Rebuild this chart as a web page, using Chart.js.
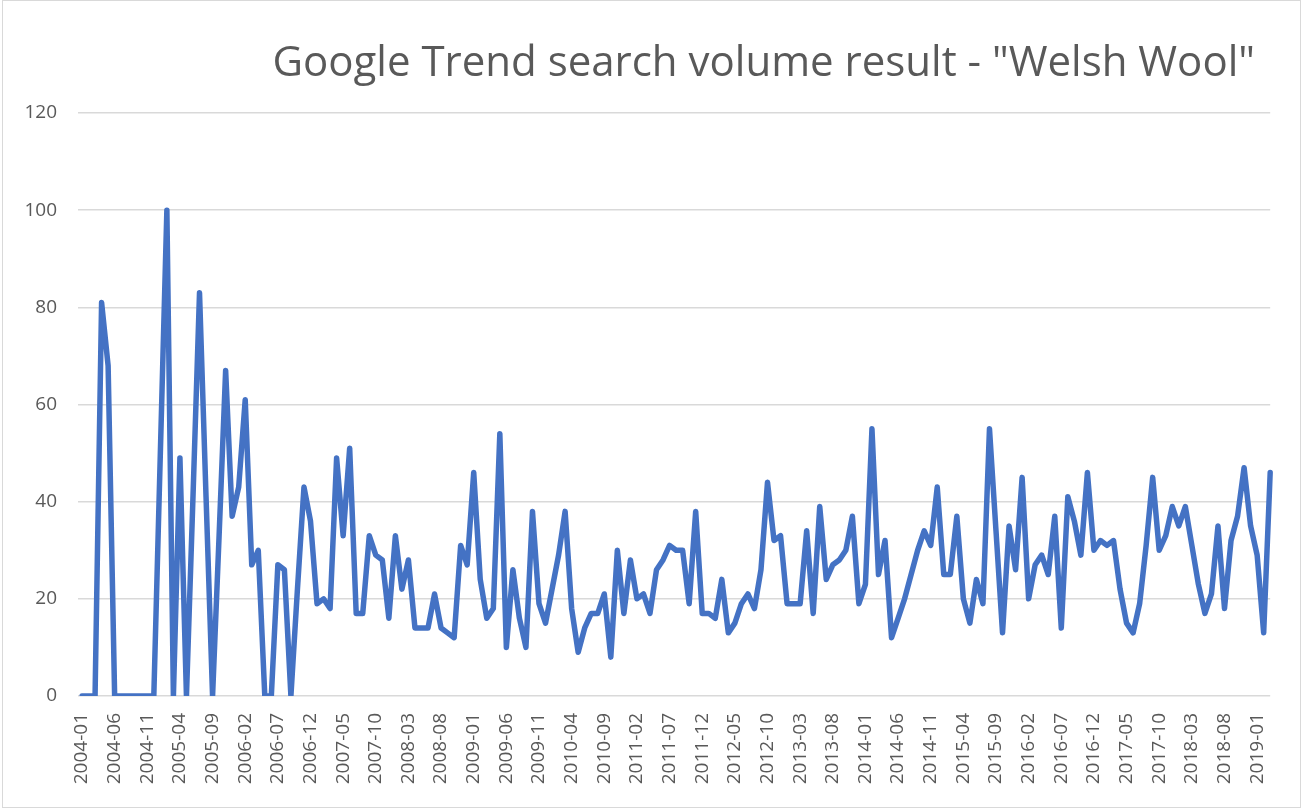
<!DOCTYPE html>
<html>
<head>
<meta charset="utf-8">
<script src="https://cdn.jsdelivr.net/npm/chart.js@4"></script>
<style>
    html, body { margin: 0; padding: 0; background: #fff; }
    #frame {
        position: absolute; left: 2px; top: 0px;
        width: 1297px; height: 806px;
        border: 1px solid #d9d9d9;
    }
    #title {
        position: absolute; right: 47px; top: 39px;
        font-family: "Open Sans", sans-serif; font-size: 42px; line-height: 1;
        color: #595959; white-space: nowrap;
    }
    canvas { position: absolute; left: 0; top: 0; }
</style>
</head>
<body>
<div id="frame"></div>
<canvas id="trend-chart" width="1302" height="810"></canvas>
<div id="title">Google Trend search volume result - "Welsh Wool"</div>
<script>
// --- Data (monthly, 2004-01 .. 2019-03) ---
const startYear = 2004;
const monthCount = 183;
const months = [];
for (let i = 0; i < monthCount; i++) {
    const y = startYear + Math.floor(i / 12);
    const m = (i % 12) + 1;
    months.push(`${y}-${String(m).padStart(2, '0')}`);
}

const searchVolume = [
    0, 0, 0, 81, 68, 0, 0, 0, 0, 0, 0, 0,
    50, 100, 0, 49, 0, 41, 83, 41, 0, 33, 67, 37,
    43, 61, 27, 30, 0, 0, 27, 26, 0, 22, 43, 36,
    19, 20, 18, 49, 33, 51, 17, 17, 33, 29, 28, 16,
    33, 22, 28, 14, 14, 14, 21, 14, 13, 12, 31, 27,
    46, 24, 16, 18, 54, 10, 26, 16, 10, 38, 19, 15,
    22, 29, 38, 18, 9, 14, 17, 17, 21, 8, 30, 17,
    28, 20, 21, 17, 26, 28, 31, 30, 30, 19, 38, 17,
    17, 16, 24, 13, 15, 19, 21, 18, 26, 44, 32, 33,
    19, 19, 19, 34, 17, 39, 24, 27, 28, 30, 37, 19,
    23, 55, 25, 32, 12, 16, 20, 25, 30, 34, 31, 43,
    25, 25, 37, 20, 15, 24, 19, 55, 34, 13, 35, 26,
    45, 20, 27, 29, 25, 37, 14, 41, 36, 29, 46, 30,
    32, 31, 32, 22, 15, 13, 19, 31, 45, 30, 33, 39,
    35, 39, 31, 23, 17, 21, 35, 18, 32, 37, 47, 35,
    29, 13, 46
];

// every 5th month gets a label on the x axis
const labelEvery = 5;
const yTicks = [0, 20, 40, 60, 80, 100, 120];

const textColor = '#595959';
const gridColor = '#d9d9d9';
const fontFamily = '"Open Sans", sans-serif';

const ctx = document.getElementById('trend-chart').getContext('2d');
new Chart(ctx, {
    type: 'line',
    data: {
        labels: months,
        datasets: [{
            label: 'Welsh Wool',
            data: searchVolume,
            borderColor: '#4472C4',
            borderWidth: 5.5,
            borderJoinStyle: 'round',
            borderCapStyle: 'round',
            pointRadius: 0,
            tension: 0,
            fill: false
        }]
    },
    options: {
        responsive: false,
        animation: false,
        layout: { padding: { left: 0, right: 31, top: 113, bottom: 0 } },
        plugins: {
            legend: { display: false },
            title: { display: false },
            tooltip: { enabled: false }
        },
        scales: {
            x: {
                grid: { display: false },
                border: { display: false },
                ticks: {
                    autoSkip: false,
                    minRotation: 90,
                    maxRotation: 90,
                    padding: 9,
                    color: textColor,
                    font: { family: fontFamily, size: 19 },
                    callback: (value, index) => index % labelEvery === 0 ? months[index] : ''
                },
                afterFit: (scale) => { scale.height = 114; }
            },
            y: {
                min: yTicks[0],
                max: yTicks[yTicks.length - 1],
                grid: { color: gridColor, lineWidth: 1.5, drawTicks: true, tickLength: 4, tickColor: gridColor },
                border: { display: false },
                afterBuildTicks: (scale) => { scale.ticks = yTicks.map(v => ({ value: v })); },
                ticks: {
                    padding: 21,
                    color: textColor,
                    font: { family: fontFamily, size: 19 }
                },
                afterFit: (scale) => { scale.width = 82; }
            }
        }
    }
});
</script>
</body>
</html>
